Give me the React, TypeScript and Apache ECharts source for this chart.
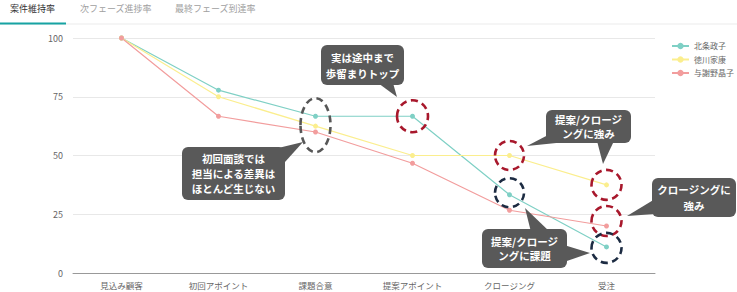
import React, { useEffect, useRef } from "react";
import * as echarts from "echarts";

const categories = ["見込み顧客", "初回アポイント", "課題合意", "提案アポイント", "クロージング", "受注"];
const seriesNames = ["北条政子", "徳川家康", "与謝野晶子"];
const hojoValues = [100, 77.8, 66.7, 66.7, 33.3, 11.1];
const tokugawaValues = [100, 75, 62.5, 50, 50, 37.5];
const yosanoValues = [100, 66.7, 60, 46.7, 26.7, 20];
const yTicks = [0, 25, 50, 75, 100];
const tabLabels = ["案件維持率", "次フェーズ進捗率", "最終フェーズ到達率"];

const FONT = "'Noto Sans CJK JP', 'Noto Sans', sans-serif";
const COLORS = ["#7fd0c5", "#fbee8e", "#f29d9d"];
const GRAY = "#575757";
const RED = "#a8182c";
const NAVY = "#1c2b42";
const BOX = "#595959";

// annotation rings: [seriesIndex, categoryIndex, color, rx, ry, dy]
const rings: [number, number, string, number, number, number][] = [
  [1, 2, GRAY, 15, 27, -1],
  [0, 3, RED, 15.5, 16, 0],
  [1, 4, RED, 14.5, 14.5, 0],
  [0, 4, NAVY, 14.5, 14.5, -2],
  [1, 5, RED, 15, 15, 0],
  [2, 5, RED, 15, 15, -5],
  [0, 5, NAVY, 15, 15, 1],
];

type Callout = {
  x: number; y: number; w: number; h: number; lh: number;
  text: string; tails: number[][][];
};
const callouts: Callout[] = [
  { x: 182, y: 147, w: 103, h: 53, lh: 15, text: "初回面談では\n担当による差異は\nほとんど生じない",
    tails: [[[270, 150], [285, 162], [303, 142]]] },
  { x: 321, y: 45, w: 83, h: 40, lh: 16, text: "実は途中まで\n歩留まりトップ",
    tails: [[[378, 83], [393, 83], [397, 97]]] },
  { x: 546, y: 110, w: 85, h: 33, lh: 13.5, text: "提案/クロージ\nングに強み",
    tails: [[[550, 134], [566, 142], [527, 146]], [[597, 141], [614, 141], [603, 164]]] },
  { x: 652, y: 178, w: 84, h: 39, lh: 16, text: "クロージングに\n強み",
    tails: [[[655, 199], [655, 214], [627, 216]]] },
  { x: 482, y: 229, w: 85, h: 39, lh: 14, text: "提案/クロージ\nングに課題",
    tails: [[[531, 232], [550, 232], [525, 208]], [[564, 245], [564, 262], [590, 253]]] },
];

export default function App() {
  const ref = useRef<HTMLDivElement>(null);
  useEffect(() => {
    document.body.style.margin = "0";
    if (!ref.current) return;
    const chart = echarts.init(ref.current, undefined, { renderer: "svg" });
    const allValues = [hojoValues, tokugawaValues, yosanoValues];
    chart.setOption({
      animation: false,
      backgroundColor: "#ffffff",
      color: COLORS,
      textStyle: { fontFamily: FONT },
      grid: { left: 73, right: 82, top: 38, bottom: 19, containLabel: false },
      legend: {
        orient: "vertical",
        left: 666,
        top: 37,
        itemWidth: 17,
        itemHeight: 8,
        itemGap: 5.5,
        textStyle: { fontSize: 8, color: "#666", fontFamily: FONT },
        data: seriesNames,
      },
      xAxis: {
        type: "category",
        data: categories,
        boundaryGap: true,
        axisLine: { lineStyle: { color: "#999", width: 1 } },
        axisTick: { show: false },
        axisLabel: { fontSize: 8.5, color: "#666", margin: 8, fontFamily: FONT },
      },
      yAxis: {
        type: "value",
        min: yTicks[0],
        max: yTicks[yTicks.length - 1],
        interval: yTicks[1] - yTicks[0],
        axisLine: { show: false },
        axisTick: { show: false },
        axisLabel: { fontSize: 9, color: "#666", margin: 10, fontFamily: FONT },
        splitLine: { lineStyle: { color: "#e8e8e8", width: 1 } },
      },
      series: seriesNames.map((name, i) => ({
        name,
        type: "line",
        data: allValues[i],
        symbol: "circle",
        symbolSize: 5,
        lineStyle: { width: 1.2 },
        itemStyle: { color: COLORS[i] },
      })),
    });

    const graphics: any[] = [];
    const tabX = [10, 80, 175];
    tabLabels.forEach((t, i) => {
      graphics.push({
        type: "text", left: tabX[i], top: 4,
        style: { text: t, fontSize: 9, fill: i === 0 ? "#333" : "#a0a0a0", fontFamily: FONT },
      });
    });
    graphics.push({ type: "rect", shape: { x: 0, y: 23.5, width: 737, height: 1 }, style: { fill: "#ececec" } });
    graphics.push({ type: "rect", shape: { x: 0, y: 22.5, width: 66, height: 2 }, style: { fill: "#17a3a3" } });

    rings.forEach(([si, ci, color, rx, ry, dy]) => {
      const p = chart.convertToPixel({ seriesIndex: 0 }, [ci, allValues[si][ci]]) as number[];
      graphics.push({
        type: "ellipse", z: 100,
        shape: { cx: p[0], cy: p[1] + dy, rx, ry },
        style: { fill: "none", stroke: color, lineWidth: 2.6, lineDash: [7, 4.5] },
      });
    });

    callouts.forEach((c) => {
      c.tails.forEach((t) => {
        graphics.push({ type: "polygon", z: 101, shape: { points: t }, style: { fill: BOX } });
      });
      graphics.push({
        type: "rect", z: 102,
        shape: { x: c.x, y: c.y, width: c.w, height: c.h, r: 6 },
        style: { fill: BOX },
      });
      graphics.push({
        type: "text", z: 103,
        x: c.x + c.w / 2, y: c.y + c.h / 2,
        style: {
          text: c.text, fill: "#ffffff", fontSize: 10.5, fontWeight: "bold",
          lineHeight: c.lh, align: "center", verticalAlign: "middle", fontFamily: FONT,
        },
      });
    });

    chart.setOption({ graphic: graphics });
    return () => chart.dispose();
  }, []);
  return <div ref={ref} style={{ width: 737, height: 292 }} />;
}
